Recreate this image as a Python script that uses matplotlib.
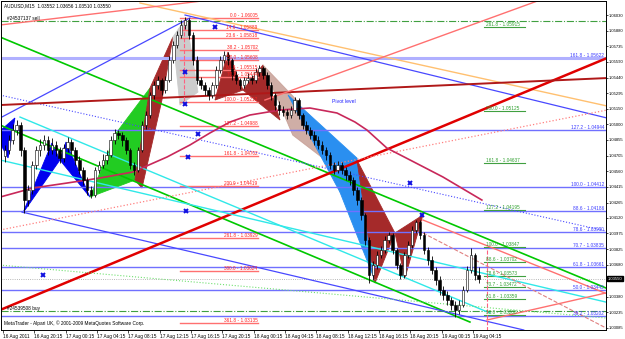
import numpy as np
import matplotlib.pyplot as plt
from matplotlib.patches import Polygon

plt.rcParams["font.family"] = ["Liberation Sans", "DejaVu Sans"]

# AUDUSD M15 -- ローソク足は30分ごとに読み取った値
open_first = 1.04700
close = [1.04760, 1.04854, 1.04948, 1.04995, 1.04760, 1.04289, 1.04383, 1.04618, 1.04760, 1.04807,
         1.04854, 1.04760, 1.04807, 1.04760, 1.04685, 1.04779, 1.04835, 1.04760, 1.04666, 1.04571,
         1.04477, 1.04383, 1.04336, 1.04571, 1.04618, 1.04666, 1.04713, 1.04854, 1.04920, 1.04901,
         1.04854, 1.04760, 1.04618, 1.04571, 1.04760, 1.04995, 1.05089, 1.05277, 1.05371, 1.05418,
         1.05324, 1.05418, 1.05607, 1.05748, 1.05842, 1.05936, 1.05983, 1.05842, 1.05607, 1.05418,
         1.05371, 1.05324, 1.05277, 1.05371, 1.05512, 1.05607, 1.05654, 1.05607, 1.05465, 1.05418,
         1.05371, 1.05418, 1.05437, 1.05418, 1.05494, 1.05531, 1.05465, 1.05371, 1.05277, 1.05183,
         1.05136, 1.05117, 1.05089, 1.05136, 1.05230, 1.05089, 1.04995, 1.04948, 1.04901, 1.04854,
         1.04807, 1.04760, 1.04713, 1.04618, 1.04571, 1.04618, 1.04571, 1.04524, 1.04477, 1.04383,
         1.04289, 1.04148, 1.03913, 1.03583, 1.03677, 1.03772, 1.03819, 1.03913, 1.03960, 1.03819,
         1.03677, 1.03583, 1.03772, 1.03866, 1.04007, 1.04082, 1.03960, 1.03819, 1.03724, 1.03630,
         1.03536, 1.03442, 1.03395, 1.03348, 1.03301, 1.03254, 1.03301, 1.03442, 1.03630, 1.03772,
         1.03583, 1.03550]
high = [1.04810, 1.04900, 1.05000, 1.05040, 1.05020, 1.04790, 1.04430, 1.04660, 1.04800, 1.04860,
        1.04900, 1.04890, 1.04870, 1.04840, 1.04790, 1.04820, 1.04880, 1.04860, 1.04790, 1.04700,
        1.04600, 1.04510, 1.04420, 1.04600, 1.04660, 1.04720, 1.04760, 1.04890, 1.04960, 1.04950,
        1.04930, 1.04880, 1.04780, 1.04650, 1.04790, 1.05030, 1.05130, 1.05310, 1.05410, 1.05460,
        1.05440, 1.05460, 1.05640, 1.05790, 1.05880, 1.05980, 1.06011, 1.06000, 1.05870, 1.05640,
        1.05450, 1.05400, 1.05350, 1.05400, 1.05550, 1.05640, 1.05690, 1.05680, 1.05630, 1.05500,
        1.05440, 1.05450, 1.05480, 1.05470, 1.05530, 1.05560, 1.05550, 1.05490, 1.05400, 1.05300,
        1.05220, 1.05170, 1.05150, 1.05170, 1.05260, 1.05250, 1.05110, 1.05030, 1.04980, 1.04940,
        1.04890, 1.04840, 1.04790, 1.04740, 1.04650, 1.04660, 1.04650, 1.04600, 1.04560, 1.04510,
        1.04410, 1.04320, 1.04170, 1.03940, 1.03720, 1.03810, 1.03860, 1.03950, 1.03985, 1.03980,
        1.03840, 1.03700, 1.03800, 1.03900, 1.04040, 1.04105, 1.04100, 1.03990, 1.03850, 1.03760,
        1.03660, 1.03570, 1.03480, 1.03430, 1.03380, 1.03340, 1.03350, 1.03480, 1.03670, 1.03837,
        1.03790, 1.03656]
low = [1.04650, 1.04720, 1.04820, 1.04900, 1.04700, 1.04167, 1.04230, 1.04350, 1.04580, 1.04700,
       1.04760, 1.04710, 1.04720, 1.04700, 1.04640, 1.04650, 1.04740, 1.04720, 1.04620, 1.04530,
       1.04430, 1.04340, 1.04310, 1.04320, 1.04540, 1.04590, 1.04630, 1.04690, 1.04820, 1.04860,
       1.04800, 1.04720, 1.04580, 1.04520, 1.04550, 1.04740, 1.04960, 1.05060, 1.05240, 1.05330,
       1.05280, 1.05300, 1.05400, 1.05580, 1.05720, 1.05810, 1.05900, 1.05800, 1.05560, 1.05380,
       1.05330, 1.05280, 1.05230, 1.05250, 1.05340, 1.05480, 1.05580, 1.05560, 1.05420, 1.05380,
       1.05330, 1.05340, 1.05390, 1.05380, 1.05390, 1.05460, 1.05430, 1.05330, 1.05230, 1.05140,
       1.05090, 1.05080, 1.05050, 1.05060, 1.05110, 1.05050, 1.04960, 1.04910, 1.04860, 1.04810,
       1.04770, 1.04720, 1.04670, 1.04580, 1.04530, 1.04540, 1.04530, 1.04480, 1.04430, 1.04340,
       1.04240, 1.04100, 1.03870, 1.03508, 1.03540, 1.03640, 1.03740, 1.03790, 1.03880, 1.03780,
       1.03640, 1.03550, 1.03560, 1.03740, 1.03840, 1.03980, 1.03920, 1.03780, 1.03680, 1.03590,
       1.03490, 1.03400, 1.03350, 1.03300, 1.03250, 1.03188, 1.03220, 1.03280, 1.03420, 1.03600,
       1.03540, 1.03510]

time_labels = ["16 Aug 2011", "16 Aug 20:15", "17 Aug 00:15", "17 Aug 04:15", "17 Aug 08:15",
               "17 Aug 12:15", "17 Aug 16:15", "17 Aug 20:15", "18 Aug 00:15", "18 Aug 04:15",
               "18 Aug 08:15", "18 Aug 12:15", "18 Aug 16:15", "18 Aug 20:15", "19 Aug 00:15",
               "19 Aug 04:15"]
price_ticks = [1.06030, 1.05880, 1.05735, 1.05590, 1.05440, 1.05295, 1.05150, 1.05000, 1.04855,
               1.04705, 1.04560, 1.04415, 1.04265, 1.04120, 1.03975, 1.03825, 1.03680, 1.03380,
               1.03235, 1.03085]

# 移動平均 (bar, price)
ma_bar = [-1.5, 15.3, 32.7, 49.5, 66.4, 83.8, 95.5, 105.7, 115.9, 126.1, 141.5, 156.8, 170.6,
          179.8, 185.9, 196.1, 207.9, 224.7, 244.6]
ma_price = [1.04317, 1.04402, 1.04449, 1.04496, 1.04553, 1.04694, 1.04807, 1.04920, 1.05023,
            1.05089, 1.05136, 1.05155, 1.05108, 1.05023, 1.04948, 1.04778, 1.04666, 1.04506,
            1.04289]

# フィボナッチ（青、右端）
blue_fib_names = ["161.8", "127.2", "100.0", "88.6", "78.6", "70.7", "61.8", "50.0", "38.2"]
blue_fib_prices = [1.05622, 1.04944, 1.04412, 1.04186, 1.03990, 1.03835, 1.03661, 1.03443, 1.03202]
# フィボナッチ（赤）
red_fib_names = ["0.0", "14.6", "23.6", "38.2", "50.0", "61.8", "70.7", "100.0", "127.2", "161.8",
                 "200.0", "261.8", "300.0", "361.8"]
red_fib_prices = [1.06005, 1.05889, 1.05818, 1.05702, 1.05608, 1.05515, 1.05444, 1.05212, 1.04988,
                  1.04702, 1.04419, 1.03929, 1.03624, 1.03135]
# フィボナッチ（緑）
green_fib_names = ["261.8", "200.0", "161.8", "127.2", "100.0", "88.6", "78.6", "70.7", "61.8", "50.0"]
green_fib_prices = [1.05915, 1.05125, 1.04637, 1.04195, 1.03847, 1.03702, 1.03573, 1.03472, 1.03359,
                    1.03208]

# トレンドライン (bar, price) の2点
green_line_1 = [(-1.5, 1.05823), (308.0, 1.03461)]
green_line_2 = [(-1.5, 1.04995), (238.5, 1.03141)]
blue_up_line = [(-1.5, 1.05061), (95.5, 1.06002)]
blue_down_line = [(93.0, 1.06030), (308.5, 1.05061)]
orange_line = [(70.0, 1.06143), (308.5, 1.05174)]
blue_low_line = [(9.7, 1.04176), (266.0, 1.03066)]
blue_dot_line = [(-1.5, 1.05277), (308.0, 1.03997)]
red_thick_line = [(-1.5, 1.03254), (308.5, 1.05625)]
darkred_line = [(-1.5, 1.05183), (308.5, 1.05437)]
salmon_line_1 = [(-1.5, 1.05936), (105.7, 1.06171)]
salmon_line_2 = [(133.8, 1.05230), (274.3, 1.06171)]
pink_dot_line = [(-1.5, 1.04007), (308.5, 1.05136)]
cyan_line_1 = [(8.7, 1.05070), (248.7, 1.03226)]
cyan_line_2 = [(-1.5, 1.04666), (310.0, 1.03320)]
lime_dot_line = [(-1.5, 1.03677), (308.0, 1.03179)]
wedge_down = [(214.5, 1.04101), (310.0, 1.03395)]
wedge_up = [(247.2, 1.03160), (310.0, 1.03423)]
wedge_dash = [(214.5, 1.03979), (308.0, 1.03085)]

# ハーモニックパターン
blue_left = [(-1.0, 1.04948), (6.1, 1.05061), (2.6, 1.04685), (-1.0, 1.04807)]
blue_xab = [(10.2, 1.04167), (25.0, 1.04826), (29.1, 1.04666)]
blue_bcd = [(29.1, 1.04666), (32.2, 1.04835), (44.4, 1.04317)]
green_xab = [(44.4, 1.04317), (58.2, 1.04929), (67.4, 1.04477)]
green_bcd = [(58.2, 1.04929), (75.1, 1.05343), (67.4, 1.04477)]
brown_rise = [(67.4, 1.04477), (75.1, 1.05343), (86.8, 1.05823), (81.2, 1.05230), (71.0, 1.04402)]
gray_top = [(86.8, 1.05823), (93.5, 1.06002), (99.6, 1.05305), (90.4, 1.05183)]
brown_xab = [(108.3, 1.05230), (114.9, 1.05682), (122.6, 1.05324)]
brown_bcd = [(122.6, 1.05324), (132.8, 1.05560), (141.5, 1.05042)]
rose_poly = [(132.8, 1.05560), (150.0, 1.05230), (165.0, 1.04660), (148.0, 1.04900)]
lblue_xab = [(145.6, 1.05277), (180.8, 1.04684), (172.1, 1.04364)]
lblue_bcd = [(172.1, 1.04364), (180.8, 1.04684), (190.5, 1.03508)]
red_xab = [(180.8, 1.04666), (190.0, 1.03508), (200.2, 1.03979)]
red_bcd = [(200.2, 1.03979), (205.3, 1.03555), (214.5, 1.04148)]

x_marks_bar = [108.3, 93.0, 93.0, 99.6, 94.5, 93.5, 20.4, 207.9, 214.0]
x_marks_price = [1.05917, 1.05494, 1.05193, 1.04910, 1.04694, 1.04186, 1.03583, 1.04449, 1.04148]

sell_price = 1.05974
buy_price = 1.03245
bid_price = 1.03550

fig = plt.figure(figsize=(6.25, 3.39), dpi=100)
ax = fig.add_axes([1 / 625, 9 / 339, 605 / 625, 329 / 339])
ax.set_xlim(-1.0, 308.0)
ax.set_ylim(1.03066, 1.06162)

fs = 3.4

# パターン
def poly(pts, color, alpha=1.0):
    ax.add_patch(Polygon(pts, closed=True, facecolor=color, edgecolor=color, lw=0.6,
                         alpha=alpha, zorder=1))

poly(blue_left, "#0000ee")
poly(blue_xab, "#0000ee")
poly(blue_bcd, "#0000ee")
poly(green_xab, "#22cc22")
poly(green_bcd, "#22cc22")
poly(brown_rise, "#a52a2a")
poly(gray_top, "#cccccc")
poly(brown_xab, "#a52a2a")
poly(brown_bcd, "#a52a2a")
poly(rose_poly, "#c49a90", 0.8)
poly(lblue_xab, "#2a8ff0")
poly(lblue_bcd, "#2a8ff0")
poly(red_xab, "#a52a2a")
poly(red_bcd, "#a52a2a")

# 水平線
for p in blue_fib_prices:
    ax.axhline(p, color="#7070ff", lw=1.0, zorder=2)
ax.axhline(blue_fib_prices[0], color="#b0b0ff", lw=2.2, zorder=2)
for n, p in zip(blue_fib_names, blue_fib_prices):
    ax.text(307, p, f"{n} - {p:.5f}", color="#3a3aff", fontsize=fs, ha="right", va="bottom", zorder=4)

for n, p in zip(red_fib_names, red_fib_prices):
    ax.plot([90.4, 130.2], [p, p], color="#ff7070", lw=1.0, zorder=2)
    ax.text(130, p, f"{n} - {p:.5f}", color="#ff2020", fontsize=fs, ha="right", va="bottom", zorder=4)

for n, p in zip(green_fib_names, green_fib_prices):
    ax.plot([245.5, 266.5], [p, p], color="#40a040", lw=0.8, zorder=2)
    ax.text(246.5, p, f"{n} - {p:.5f}", color="#30a030", fontsize=fs, ha="left", va="bottom", zorder=4)

ax.axhline(sell_price, color="#40a040", lw=0.8, ls="-.", zorder=2)
ax.axhline(buy_price, color="#40a040", lw=0.8, ls="-.", zorder=2)
ax.axhline(bid_price, color="#a0a0a0", lw=0.6, ls=":", zorder=2)

# トレンドライン
def tline(pts, color, lw=1.0, ls="-"):
    (x0, y0), (x1, y1) = pts
    ax.plot([x0, x1], [y0, y1], color=color, lw=lw, ls=ls, zorder=2)

tline(green_line_1, "#00c800", 1.2)
tline(green_line_2, "#00c800", 1.2)
tline(blue_up_line, "#4848ff", 0.9)
tline(blue_down_line, "#4848ff", 0.9)
tline(orange_line, "#ffc070", 1.0)
tline(blue_low_line, "#4848ff", 0.9)
tline(blue_dot_line, "#4848ff", 0.8, ":")
tline(red_thick_line, "#e00000", 1.8)
tline(darkred_line, "#b01818", 1.4)
tline(salmon_line_1, "#ff7070", 1.0)
tline(salmon_line_2, "#ff7070", 1.0)
tline(pink_dot_line, "#ff8080", 0.9, ":")
tline(cyan_line_1, "#30e8e8", 1.0)
tline(cyan_line_2, "#30e8e8", 1.0)
tline(lime_dot_line, "#70e070", 0.8, ":")
tline(wedge_down, "#ff7070", 1.0)
tline(wedge_up, "#ff7070", 1.0)
tline(wedge_dash, "#e08080", 0.8, "--")

ax.plot(ma_bar, ma_price, color="#c8285a", lw=1.2, zorder=2)

ax.plot([92.4, 92.4], [1.05983, 1.05183], color="#ff6080", lw=0.8, ls="--", zorder=2)
ax.plot([247.2, 247.2], [1.03819, 1.03066], color="#ff6080", lw=0.8, ls="--", zorder=2)

# ローソク足
opens = [open_first] + close[:-1]
xs = np.arange(len(close)) * 2 + 1
ax.vlines(xs, low, high, color="black", lw=0.6, zorder=3)
for x, o, c in zip(xs, opens, close):
    bottom = min(o, c)
    h = max(abs(c - o), 0.00003)
    ax.bar(x, h, bottom=bottom, width=1.3, color="white" if c >= o else "black",
           edgecolor="black", lw=0.4, zorder=3)

ax.plot(x_marks_bar, x_marks_price, ls="none", marker="x", color="#1010e0", ms=3.5, mew=1.4, zorder=4)

# テキスト
ax.text(0.5, 1.0612, "AUDUSD,M15  1.03552 1.03656 1.03510 1.03550", fontsize=fs, va="center", zorder=4)
ax.text(2, sell_price, "#24537137 sell", fontsize=fs, va="bottom", zorder=4)
ax.text(2, buy_price, "#24539508 buy", fontsize=fs, va="bottom", zorder=4)
ax.text(168, 1.05200, "Pivot level", color="#2020ff", fontsize=fs + 0.3, zorder=4)
ax.text(0.5, 1.0313, "MetaTrader - Alpari UK, © 2001-2009 MetaQuotes Software Corp.", fontsize=fs,
        va="center", zorder=4)

# 軸
ax.yaxis.tick_right()
ax.set_yticks(price_ticks)
ax.set_yticklabels([f"{p:.5f}" for p in price_ticks])
ax.set_xticks(np.arange(len(time_labels)) * 16)
ax.set_xticklabels(time_labels, ha="left")
ax.tick_params(axis="x", labelsize=fs, length=2, width=0.5, pad=1)
ax.tick_params(axis="y", labelsize=3.0, length=1.5, width=0.5, pad=0.5)
for s in ax.spines.values():
    s.set_linewidth(0.7)

ax.text(1.003, bid_price, "1.03550", transform=ax.get_yaxis_transform(), fontsize=3.0, color="white",
        va="center", ha="left", bbox=dict(facecolor="black", edgecolor="black", pad=0.3))

fig.savefig("out.png", dpi=100)
